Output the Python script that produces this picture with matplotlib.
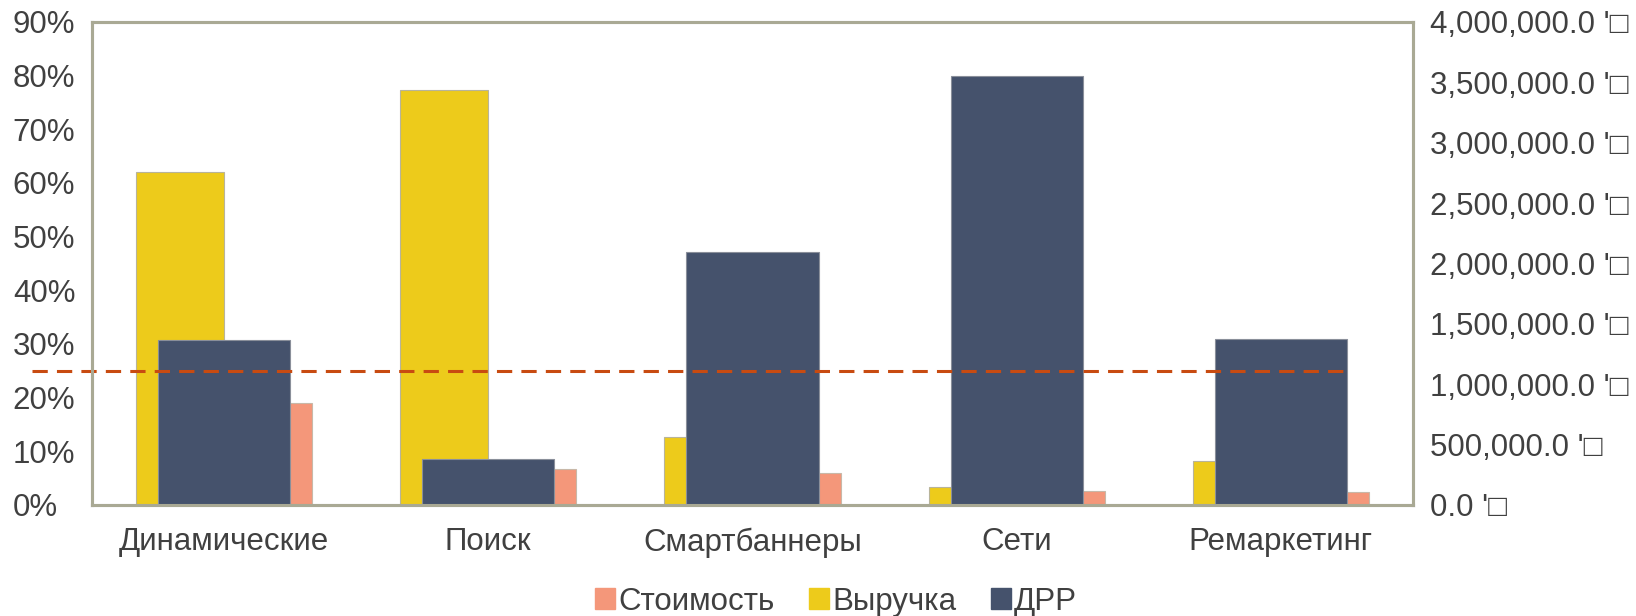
import matplotlib
matplotlib.use("Agg")
from matplotlib import pyplot as plt
import numpy as np

plt.rcParams['font.family'] = ['Liberation Sans', 'DejaVu Sans']

categories = ["Динамические", "Поиск", "Смартбаннеры", "Сети", "Ремаркетинг"]
cost = [845000, 298000, 265000, 120000, 110000]          # Стоимость
revenue = [2760000, 3440000, 563000, 149000, 364000]     # Выручка
drr = [0.308, 0.086, 0.472, 0.80, 0.309]                  # ДРР
drr_target = 0.25

pct_ticks = [i / 10 for i in range(10)]
money_ticks = [i * 500000 for i in range(9)]

c_cost = '#F4977A'
c_rev = '#EDCB1B'
c_drr = '#45526C'
c_line = '#C84B11'
c_spine = '#A9A994'
c_text = '#404040'
fs = 22.5

fig = plt.figure(figsize=(16.36, 6.16), dpi=100)
ax = fig.add_axes([0.0562, 0.1802, 0.8075, 0.7841])
ax2 = ax.twinx()

x = np.arange(len(categories))

# money bars underneath (right axis)
ax.bar(x - 1/6, revenue, width=1/3, color=c_rev, edgecolor='#B8B49A', linewidth=0.8)
ax.bar(x + 1/6, cost, width=1/3, color=c_cost, edgecolor='#C8B8A8', linewidth=0.8)
ax.set_ylim(0, 4000000)
ax.set_yticks(money_ticks)
ax.set_yticklabels([f"{v:,.1f} '\u25a1" for v in money_ticks])
ax.yaxis.tick_right()

# ДРР bars on top (left axis)
ax2.bar(x, drr, width=0.5, color=c_drr, edgecolor='#8A8F9A', linewidth=0.8)
ax2.set_ylim(0, 0.9)
ax2.set_yticks(pct_ticks)
ax2.set_yticklabels([f"{int(round(v * 100))}%" for v in pct_ticks])
ax2.yaxis.tick_left()
for lab in ax2.get_yticklabels():
    lab.set_horizontalalignment('left')
ax2.tick_params(axis='y', length=0, pad=57, labelsize=fs, labelcolor=c_text)

ax2.axhline(drr_target, xmin=-0.045, xmax=0.953, color=c_line, linestyle=(0, (5, 3)),
            linewidth=2.2, clip_on=False)

ax.set_xlim(-0.5, len(categories) - 0.5)
ax.set_xticks(x)
ax.set_xticklabels(categories)
ax.tick_params(axis='x', length=0, pad=16, labelsize=fs, labelcolor=c_text)
ax.tick_params(axis='y', length=0, pad=12, labelsize=fs, labelcolor=c_text)

for a in (ax, ax2):
    for s in a.spines.values():
        s.set_color(c_spine)
        s.set_linewidth(2.2)

handles = [plt.Rectangle((0, 0), 1, 1, color=c_cost),
           plt.Rectangle((0, 0), 1, 1, color=c_rev),
           plt.Rectangle((0, 0), 1, 1, color=c_drr)]
fig.legend(handles, ["Стоимость", "Выручка", "ДРР"], loc='center', bbox_to_anchor=(0.511, 0.023),
           ncol=3, frameon=False, fontsize=fs, handlelength=0.65, handleheight=0.65,
           handletextpad=0.1, columnspacing=1.1, labelcolor=c_text)

fig.savefig("out.png", dpi=100)
